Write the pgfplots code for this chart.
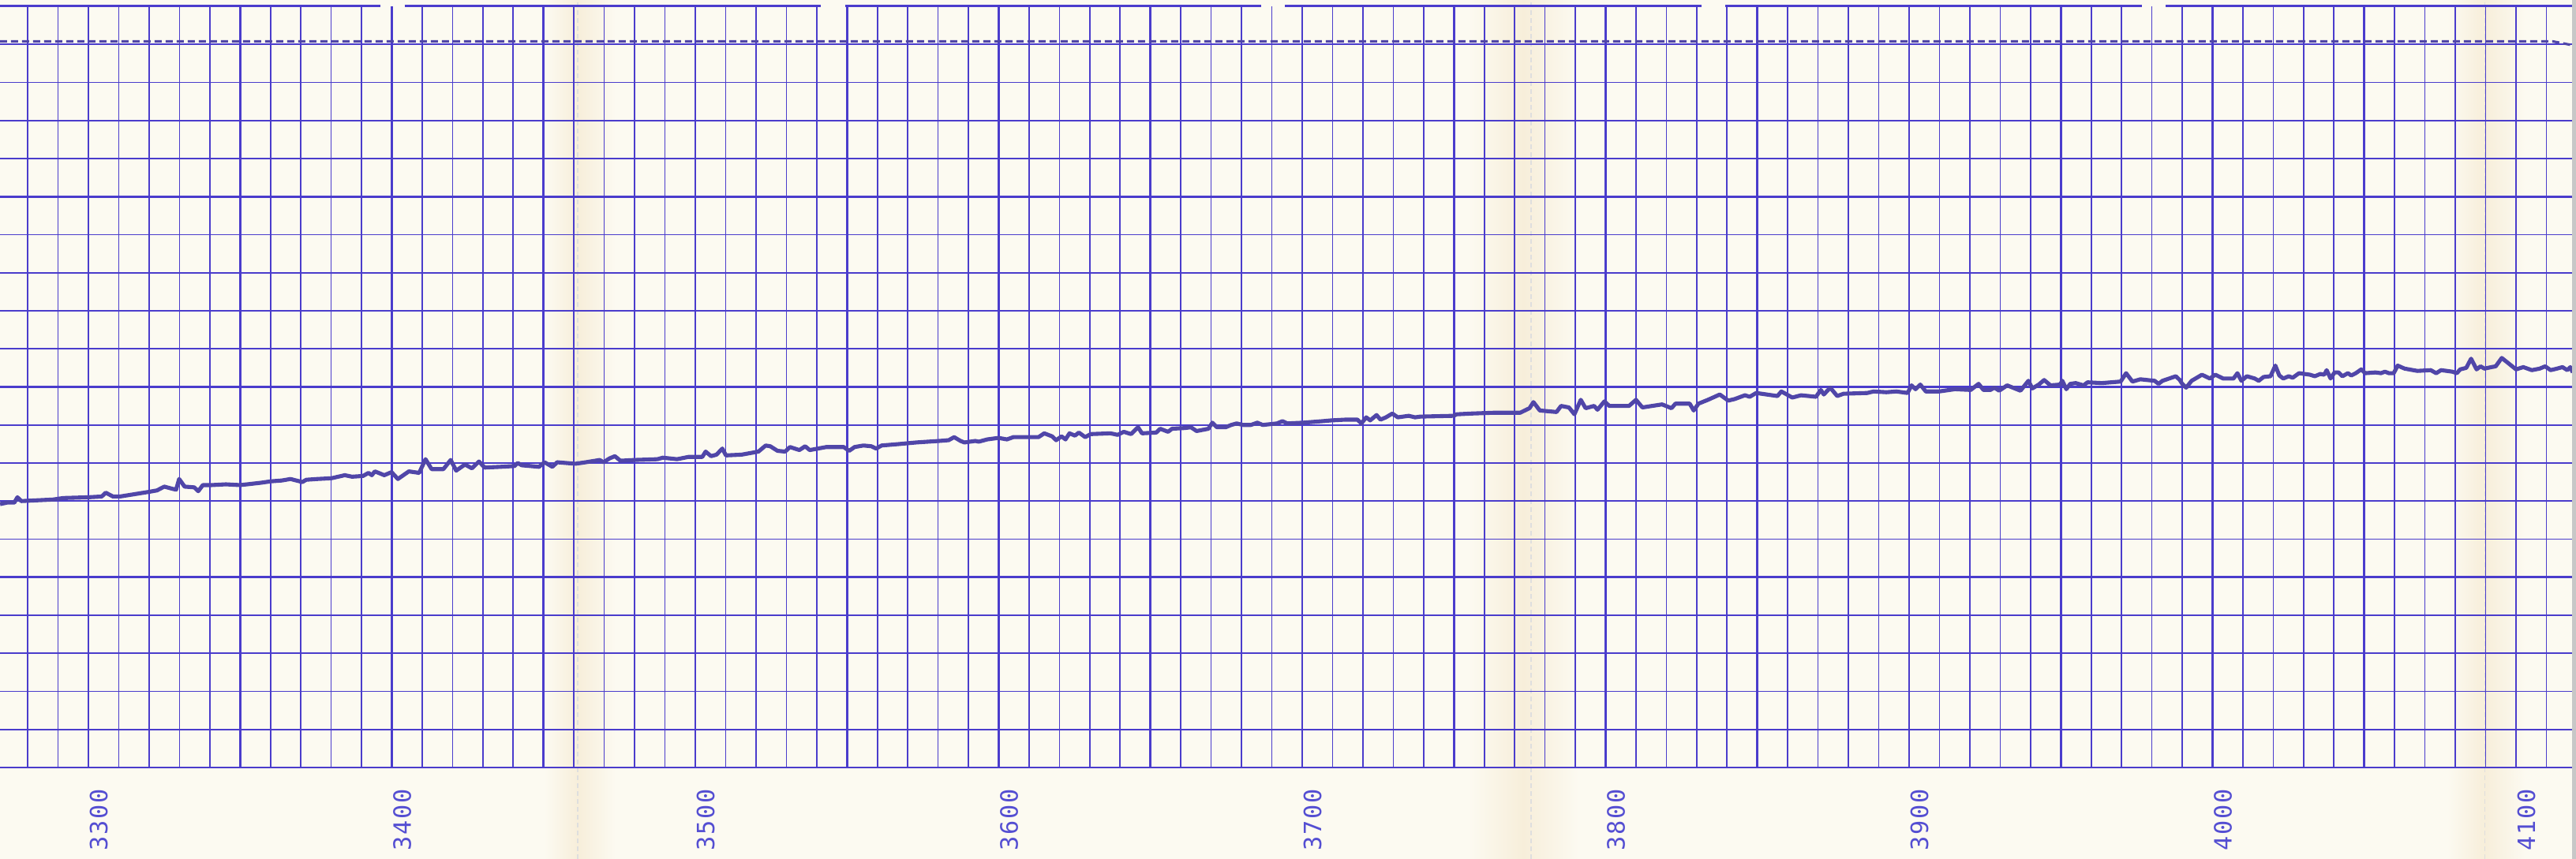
\documentclass[border=0pt]{standalone}
\usepackage{fontspec}
\usepackage{pgfplots}
\pgfplotsset{compat=1.18}
\newfontfamily\dotfont[LetterSpace=5]{DejaVu Sans Mono}
\definecolor{paper}{RGB}{252,250,241}
\definecolor{fold}{RGB}{247,238,218}
\definecolor{gridc}{RGB}{74,60,204}
\definecolor{pen}{RGB}{80,70,168}
\definecolor{print}{RGB}{84,78,210}

\begin{document}
\begin{tikzpicture}
\useasboundingbox (0,0) rectangle (32.64,10.89);
\fill[paper] (0,0) rectangle (32.64,10.89);
% paper folds
\shade[left color=paper,right color=fold] (6.90,0) rectangle (7.32,10.89);
\shade[left color=fold,right color=paper] (7.32,0) rectangle (7.80,10.89);
\shade[left color=paper,right color=fold] (18.60,0) rectangle (19.30,10.89);
\shade[left color=fold,right color=paper] (19.30,0) rectangle (20.00,10.89);
\shade[left color=paper,right color=fold] (31.00,0) rectangle (31.48,10.89);
\shade[left color=fold,right color=paper] (31.48,0) rectangle (32.00,10.89);
\foreach \f in {7.32,19.40,31.48}
  \draw[black!13, line width=0.3pt, dash pattern=on 0.06cm off 0.04cm] (\f,0) -- (\f,10.89);

\begin{axis}[
    scale only axis,
    width=32.64cm, height=9.65cm,
    at={(0,1.16cm)}, anchor=south west,
    xmin=3270.87, xmax=4119.77,
    ymin=0, ymax=100,
    axis line style={draw=none},
    clip=false,
    xtick={3300,3350,...,4100},
    xticklabels={3300,,3400,,3500,,3600,,3700,,3800,,3900,,4000,,4100},
    minor xtick={3280,3290,...,4110},
    ytick={0,25,50,75},
    yticklabels={},
    minor ytick={5,10,...,95},
    grid=both,
    major grid style={gridc, line width=0.8pt},
    minor grid style={gridc, line width=0.48pt},
    major tick length=0pt, minor tick length=0pt,
    xticklabel style={font=\dotfont\fontsize{8.6}{9}\selectfont, text=print,
        inner sep=0pt, anchor=east, xshift=0.13cm, yshift=-0.27cm, rotate=90},
  ]
% top edge of the chart paper, broken at the perforations
\draw[gridc, line width=0.85pt] (axis cs:3270.87,100) -- (axis cs:3396.2,100);
\draw[gridc, line width=0.85pt] (axis cs:3404.2,100) -- (axis cs:3541.3,100);
\draw[gridc, line width=0.85pt] (axis cs:3549.3,100) -- (axis cs:3686.4,100);
\draw[gridc, line width=0.85pt] (axis cs:3694.4,100) -- (axis cs:3831.5,100);
\draw[gridc, line width=0.85pt] (axis cs:3839.5,100) -- (axis cs:3976.6,100);
\draw[gridc, line width=0.85pt] (axis cs:3984.6,100) -- (axis cs:4119.77,100);

% 100% line (dashed)
\addplot[pen, line width=0.9pt, dash pattern=on 0.09cm off 0.05cm] coordinates {
(3270.87,95.4) (4112,95.4) (4119.77,94.8)
};

% recorded trace
\addplot[pen, line width=1.45pt, line join=round, no marks] coordinates {
(3270.9,34.6)(3273.2,34.8)(3275.6,34.8)(3276.6,35.5)(3277.9,35.0)(3288.3,35.2)(3291.7,35.4)
(3300.0,35.5)(3304.4,35.6)(3305.7,36.1)(3308.1,35.6)(3310.4,35.6)(3315.1,35.9)(3319.8,36.2)
(3322.6,36.4)(3325.0,36.9)(3327.8,36.6)(3328.9,36.5)(3329.9,37.9)(3331.7,36.9)(3334.9,36.8)
(3336.2,36.3)(3337.7,37.1)(3340.6,37.1)(3345.3,37.2)(3349.9,37.1)(3352.3,37.2)(3356.7,37.4)
(3360.3,37.6)(3363.7,37.7)(3366.6,37.9)(3370.5,37.5)(3371.8,37.8)(3375.4,37.9)(3380.1,38.0)
(3384.5,38.4)(3386.9,38.2)(3390.5,38.3)(3392.3,38.7)(3393.4,38.4)(3394.4,38.9)(3397.5,38.4)
(3399.9,38.8)(3402.0,37.9)(3405.6,38.9)(3409.0,38.7)(3411.1,40.5)(3413.1,39.2)(3417.0,39.2)
(3419.4,40.4)(3421.2,39.0)(3424.1,39.8)(3426.4,39.3)(3428.7,40.2)(3430.6,39.4)(3435.8,39.5)
(3440.4,39.6)(3441.5,40.0)(3442.8,39.7)(3448.5,39.5)(3450.3,40.1)
(3452.9,39.5)(3454.5,40.1)(3460.5,39.9)(3463.9,40.1)(3468.5,40.4)(3469.8,40.1)(3471.7,40.6)
(3473.5,40.9)(3475.3,40.3)(3480.0,40.4)(3487.5,40.5)(3489.3,40.7)(3494.0,40.5)(3497.7,40.8)
(3502.3,40.8)(3503.4,41.5)(3505.2,40.9)(3507.0,41.1)(3508.9,41.9)(3510.1,41.0)(3515.3,41.1)
(3520.8,41.5)(3523.2,42.3)(3524.7,42.2)(3527.1,41.6)(3529.6,41.5)(3531.2,42.1)(3534.3,41.7)
(3536.2,42.2)(3537.7,41.7)(3543.2,42.1)(3548.9,42.1)(3550.7,41.6)(3552.5,42.1)(3555.4,42.3)
(3558.0,42.2)(3559.6,41.9)(3561.4,42.3)(3567.4,42.5)(3572.8,42.7)(3580.4,42.9)(3583.5,43.0)
(3585.3,43.4)(3587.4,42.9)(3588.7,42.7)(3592.3,42.9)
(3593.4,42.8)(3596.2,43.1)(3599.9,43.3)(3602.7,43.1)(3604.8,43.4)(3613.1,43.4)(3615.0,43.9)
(3617.6,43.5)(3618.9,43.0)(3620.7,43.5)(3622.0,43.1)(3623.3,43.9)(3625.1,43.6)(3626.4,44.0)
(3628.5,43.4)(3630.3,43.8)(3636.8,43.9)(3639.2,43.7)(3641.2,44.1)(3643.6,43.8)(3645.9,44.7)
(3647.2,43.9)(3651.9,44.0)(3653.2,44.5)(3655.8,44.1)(3657.1,44.5)(3661.5,44.6)(3663.3,44.7)
(3665.2,44.2)(3669.1,44.5)(3670.4,45.3)(3671.9,44.7)(3674.8,44.7)(3676.6,45.0)(3678.4,45.2)
(3680.5,45.0)(3683.1,45.0)(3685.2,45.3)(3687.0,45.0)(3691.7,45.2)(3693.5,45.5)(3695.1,45.2)
(3700.3,45.3)(3706.8,45.5)(3709.6,45.6)(3714.3,45.7)(3718.2,45.7)(3719.5,45.2)(3721.1,46.0)
(3722.4,45.6)(3724.5,46.3)(3725.8,45.7)(3727.6,46.0)(3729.7,46.5)(3731.5,46.0)(3735.1,46.2)
(3737.2,46.0)
(3739.0,46.1)(3749.9,46.2)(3750.9,46.4)(3755.9,46.5)(3762.9,46.6)(3771.8,46.6)(3774.9,47.2)
(3776.2,48.0)(3778.3,46.9)(3783.8,46.7)(3785.3,47.5)(3787.9,47.3)(3789.7,46.4)(3791.8,48.3)
(3793.4,47.2)(3796.2,47.5)(3797.3,47.0)(3799.6,48.1)(3801.2,47.5)(3807.7,47.5)(3810.0,48.3)
(3812.1,47.3)(3818.6,47.7)(3821.7,47.2)(3823.0,47.8)(3827.7,47.8)(3829.0,46.9)(3830.6,47.8)
(3833.7,48.3)(3837.6,49.0)(3840.4,48.2)(3842.5,48.4)(3845.9,48.9)(3847.5,48.7)(3849.6,49.2)
(3856.6,48.8)(3857.9,49.4)(3861.5,48.6)(3864.4,48.9)(3869.3,48.7)(3870.9,49.6)(3871.9,49.0)
(3874.0,49.9)(3876.3,48.8)(3878.4,49.1)(3886.2,49.2)(3888.3,49.4)
(3892.5,49.3)(3895.8,49.4)(3899.5,49.2)(3900.8,50.2)(3902.1,49.7)(3903.7,50.3)(3905.5,49.4)
(3909.9,49.4)(3915.1,49.7)(3920.3,49.6)(3922.9,50.4)(3924.5,49.6)(3926.8,49.6)(3928.1,49.9)
(3929.7,49.5)(3932.3,50.2)(3936.7,49.5)(3939.3,50.8)(3940.6,49.8)(3942.7,50.3)(3944.5,50.9)
(3946.6,50.2)(3949.7,50.3)(3950.5,50.8)(3951.8,49.7)(3953.1,50.4)(3954.9,50.5)(3957.5,50.2)
(3958.8,50.6)(3963.5,50.5)(3969.7,50.7)(3971.5,51.8)(3973.6,50.7)(3976.2,51.0)(3980.9,50.8)
(3982.2,50.4)(3983.5,50.8)(3987.9,51.4)(3989.2,50.9)(3990.0,50.4)(3991.3,49.9)(3993.1,50.8)
(3996.5,51.6)(3999.1,51.1)(4000.9,51.6)(4003.5,51.1)(4006.9,51.1)(4008.2,51.8)(4009.5,50.8)
(4011.3,51.4)(4013.9,51.1)(4015.2,50.8)
(4016.8,51.3)(4019.1,51.4)(4020.7,52.8)(4022.0,51.5)(4023.3,51.1)(4025.1,51.4)(4026.4,51.2)
(4028.5,51.8)(4032.1,51.6)(4033.7,51.4)(4035.5,51.7)(4036.8,51.6)(4037.6,52.2)(4038.9,51.1)
(4040.2,51.9)(4041.5,51.9)(4042.8,51.4)(4044.6,51.8)(4045.7,51.5)(4047.2,51.8)(4049.0,52.3)
(4050.3,51.8)(4053.7,51.9)(4055.5,51.8)(4056.8,52.0)(4058.1,51.8)(4059.7,51.8)(4061.0,52.8)
(4063.3,52.4)(4067.5,52.1)(4071.9,52.2)(4073.7,51.8)(4075.3,52.2)(4079.0,52.0)(4080.5,51.8)
(4081.6,52.3)(4083.6,52.5)(4085.2,53.7)(4087.0,52.3)(4088.3,52.7)(4089.6,52.4)(4091.9,52.6)
(4093.3,52.7)(4095.3,53.8)(4097.2,53.2)(4100.0,52.3)(4102.4,52.6)(4105.2,52.2)(4107.8,52.4)
(4109.6,52.7)(4111.4,52.2)(4113.5,52.4)(4115.3,52.6)(4116.9,52.2)(4117.9,52.6)(4118.7,51.9)
};
\end{axis}
% scanner edge on the right
\fill[black!22] (32.59,0) rectangle (32.64,10.89);
\end{tikzpicture}
\end{document}
